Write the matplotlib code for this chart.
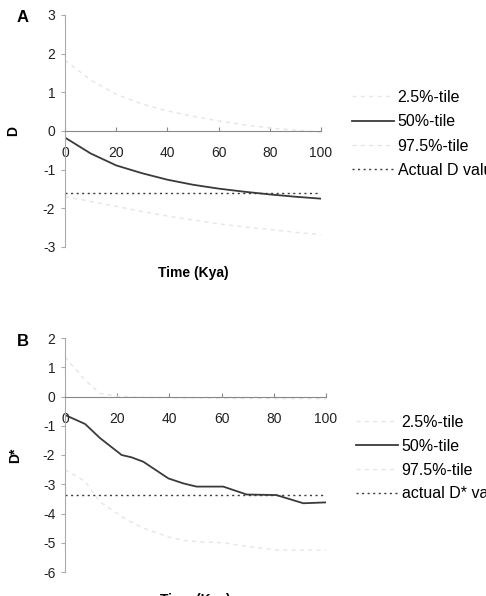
import matplotlib
matplotlib.use("Agg")
import matplotlib.pyplot as plt

plt.rcParams['font.family'] = ['Liberation Sans', 'DejaVu Sans']
plt.rcParams['axes.unicode_minus'] = False

# panel A (Tajima's D)
time_a = [0, 10, 20, 30, 40, 50, 60, 70, 80, 90, 100]
d_median = [-0.17, -0.58, -0.89, -1.09, -1.26, -1.39, -1.49, -1.57, -1.64, -1.70, -1.75]
d_upper = [1.83, 1.32, 0.95, 0.70, 0.52, 0.38, 0.26, 0.16, 0.08, 0.02, -0.03]
d_lower = [-1.70, -1.82, -1.95, -2.08, -2.2, -2.3, -2.4, -2.48, -2.55, -2.62, -2.68]
d_actual = -1.6
labels_a = ['2.5%-tile', '50%-tile', '97.5%-tile', 'Actual D value']

# panel B (Fu and Li's D*)
time_b = [0, 7.7, 13.4, 21.7, 25.5, 30, 39.6, 45.3, 50.4, 60.6, 69.6, 81, 91.3, 100]
ds_median = [-0.63, -0.94, -1.42, -2.0, -2.08, -2.23, -2.8, -2.97, -3.08, -3.08, -3.35, -3.37, -3.65, -3.62]
ds_upper = [1.35, 0.56, 0.1, 0.0, -0.02, -0.03, -0.04, -0.05, -0.05, -0.06, -0.06, -0.07, -0.07, -0.08]
ds_lower = [-2.5, -2.9, -3.6, -4.1, -4.3, -4.5, -4.8, -4.92, -4.96, -5.0, -5.12, -5.25, -5.25, -5.25]
ds_actual = -3.37
labels_b = ['2.5%-tile', '50%-tile', '97.5%-tile', 'actual D* value']

W, H = 486, 596
fig = plt.figure(figsize=(W / 100, H / 100), dpi=100)

def px_axes(l, r, t, b):
    return fig.add_axes([l / W, 1 - b / H, (r - l) / W, (b - t) / H])

faint = '#e6e6e6'
dark = '#3a3a3a'

def draw(ax, x, med, up, lo, actual, ylim, labels, ylab, leg_xy, lab_x, xlab_y, spacing):
    l1, = ax.plot(x, lo, color=faint, lw=1, ls=(0, (3, 3)))
    l2, = ax.plot(x, med, color=dark, lw=1.3)
    l3, = ax.plot(x, up, color=faint, lw=1, ls=(0, (3, 3)))
    l4 = ax.axhline(actual, color=dark, lw=1, ls=(0, (1.5, 2.5)))
    ax.set_xlim(0, 100)
    ax.set_ylim(*ylim)
    ax.set_xticks(range(0, 101, 20))
    ax.set_yticks(range(ylim[0], ylim[1] + 1))
    for s in ['top', 'right']:
        ax.spines[s].set_visible(False)
    ax.spines['bottom'].set_position(('data', 0))
    ax.spines['bottom'].set_color('#888888')
    ax.spines['left'].set_color('#aaaaaa')
    ax.spines['bottom'].set_linewidth(0.8)
    ax.spines['left'].set_linewidth(0.8)
    ax.tick_params(axis='x', direction='in', length=3, pad=11, labelsize=10,
                   color='#888888', labelcolor='#222222')
    ax.tick_params(axis='y', direction='out', length=3, pad=4, labelsize=10,
                   color='#aaaaaa', labelcolor='#222222')
    ax.set_ylabel(ylab, fontsize=10, fontweight='bold')
    ax.yaxis.set_label_coords(lab_x, 0.5)
    ax.set_xlabel('Time (Kya)', fontsize=10, fontweight='bold')
    ax.xaxis.set_label_coords(0.5, xlab_y)
    ax.xaxis.label.set_verticalalignment('center')
    ax.legend([l1, l2, l3, l4], labels, loc='upper left',
              bbox_to_anchor=leg_xy, bbox_transform=fig.transFigure,
              frameon=False, fontsize=11.5, handlelength=2.6,
              handletextpad=0.25, labelspacing=spacing, borderaxespad=0,
              borderpad=0)

ax_a = px_axes(65, 321, 15, 247)
draw(ax_a, time_a, d_median, d_upper, d_lower, d_actual, (-3, 3), labels_a,
     'D', (352 / W, 1 - 90 / H), -0.176, -0.112, 0.58)

ax_b = px_axes(65, 326, 338, 572)
draw(ax_b, time_b, ds_median, ds_upper, ds_lower, ds_actual, (-6, 2), labels_b,
     'D*', (356 / W, 1 - 415 / H), -0.166, -0.12, 0.55)

fig.text(23 / W, 1 - 17 / H, 'A', fontsize=12, fontweight='bold', ha='center', va='center')
fig.text(23 / W, 1 - 341 / H, 'B', fontsize=12, fontweight='bold', ha='center', va='center')

fig.savefig('out.png', dpi=100)
